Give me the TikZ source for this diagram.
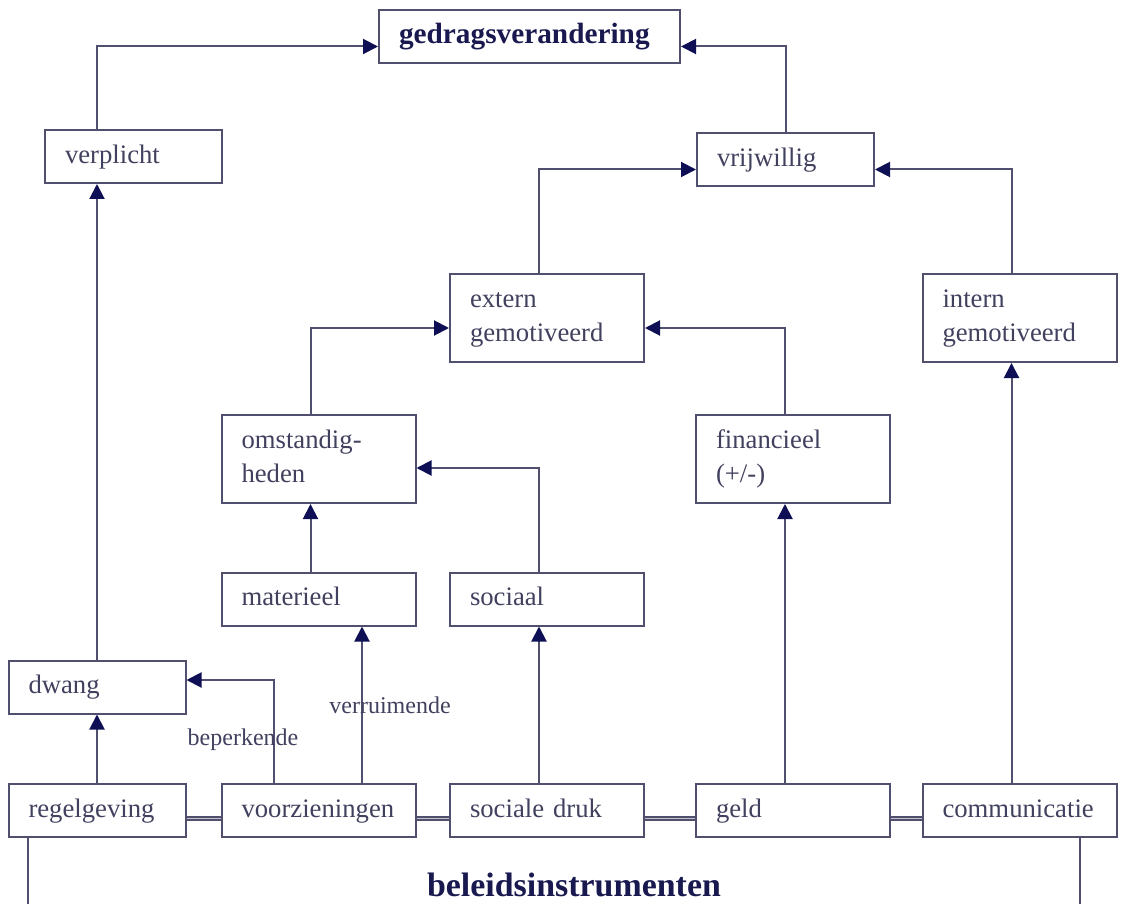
\documentclass[tikz,border=0pt]{standalone}
\usepackage{fontspec}
\setmainfont{Liberation Serif}
\usetikzlibrary{arrows.meta,calc}

\definecolor{lijn}{RGB}{80,80,110}
\definecolor{pijl}{RGB}{15,15,85}
\definecolor{tekst}{RGB}{65,65,95}
\definecolor{titel}{RGB}{25,25,80}

\begin{document}
\begin{tikzpicture}[x=1pt,y=-1pt,
		box/.style={draw=lijn,line width=2pt,text=tekst,align=left,inner xsep=20pt,inner ysep=0pt,
			font=\fontsize{26.7}{34}\selectfont,execute at begin node=\strut,execute at end node=\strut},
		smal/.style={text width=137pt,minimum height=53pt},
		breed/.style={text width=154pt,minimum height=53pt},
		hoog/.style={text width=154pt,minimum height=88pt},
		pijl/.style={draw=lijn,line width=2pt,-{Triangle[length=15pt,width=15pt,color=pijl]}},
		koppel/.style={draw=lijn,line width=1.3pt,double=lijn!35,double distance=1.8pt},
		etiket/.style={text=tekst,inner sep=0pt,font=\fontsize{24}{28}\selectfont}]
		\useasboundingbox (0,0) rectangle (1125,904);
		% boxes
		\node[box,text width=261pt,minimum height=53pt,text=titel,font=\fontsize{29.3}{34}\bfseries] (gedrag) at (529.5,36.5) {gedragsverandering};
		\node[box,smal] (verplicht) at (133.5,156.5) {verplicht};
		\node[box,smal] (vrijwillig) at (785.5,159.5) {vrijwillig};
		\node[box,hoog] (extern) at (547,318) {extern\\gemotiveerd};
		\node[box,hoog] (intern) at (1019.5,318) {intern\\gemotiveerd};
		\node[box,hoog] (omstandig) at (318.5,459) {omstandig-\\heden};
		\node[box,hoog] (financieel) at (793,459) {financieel\\(+/-)};
		\node[box,breed] (materieel) at (318.5,599) {materieel};
		\node[box,breed] (sociaal) at (547,599) {sociaal};
		\node[box,smal] (dwang) at (97,687) {dwang};
		\node[box,smal] (regelgeving) at (97,810.5) {regelgeving};
		\node[box,breed] (voorzieningen) at (318.5,810.5) {voorzieningen};
		\node[box,breed] (sociale) at (547,810.5) {sociale druk};
		\node[box,breed] (geld) at (793,810.5) {geld};
		\node[box,breed] (communicatie) at (1019.5,810.5) {communicatie};
		\node[text=titel,inner sep=0pt,font=\fontsize{33.9}{38}\bfseries] (beleid) at (574,885) {beleidsinstrumenten};
		% arrows
		\draw[pijl] (verplicht.north -| dwang.north) |- ([yshift=-10pt]gedrag.west);
		\draw[pijl] (vrijwillig.north) |- ([yshift=-10pt]gedrag.east);
		\draw[pijl] ([xshift=-8pt]extern.north) |- ([yshift=-10pt]vrijwillig.west);
		\draw[pijl] ([xshift=-8pt]intern.north) |- ([yshift=-10pt]vrijwillig.east);
		\draw[pijl] ([xshift=-8pt]omstandig.north) |- ([yshift=-10pt]extern.west);
		\draw[pijl] ([xshift=-8pt]financieel.north) |- ([yshift=-10pt]extern.east);
		\draw[pijl] ([xshift=-8pt]materieel.north) -- ([xshift=-8pt]omstandig.south);
		\draw[pijl] ([xshift=-8pt]sociaal.north) |- ([yshift=-9pt]omstandig.east);
		\draw[pijl] ([xshift=-8pt]sociale.north) -- ([xshift=-8pt]sociaal.south);
		\draw[pijl] ([xshift=-8pt]geld.north) -- ([xshift=-8pt]financieel.south);
		\draw[pijl] ([xshift=-8pt]communicatie.north) -- ([xshift=-8pt]intern.south);
		\draw[pijl] (regelgeving.north) -- (dwang.south);
		\draw[pijl] (dwang.north) -- (verplicht.south -| dwang.north);
		\draw[pijl] ([xshift=-44.5pt]voorzieningen.north) |- ([yshift=7pt]dwang.east);
		\draw[pijl] ([xshift=43.5pt]voorzieningen.north) -- ([xshift=43.5pt]materieel.south);
		\node[etiket] (beperkende) at (243,740) {beperkende};
		\node[etiket] (verruimende) at (390,705) {verruimende};
		% links between instruments
		\foreach \a/\b in {regelgeving/voorzieningen,voorzieningen/sociale,sociale/geld,geld/communicatie}
			\draw[koppel] ([yshift=-8pt]\a.east) -- ([yshift=-8pt]\b.west);
		\coordinate (linksonder) at (28,904);
		\coordinate (rechtsonder) at (1080,904);
		\draw[draw=lijn,line width=2pt] (regelgeving.south -| linksonder) -- (linksonder);
		\draw[draw=lijn,line width=2pt] (communicatie.south -| rechtsonder) -- (rechtsonder);
\end{tikzpicture}
\end{document}
